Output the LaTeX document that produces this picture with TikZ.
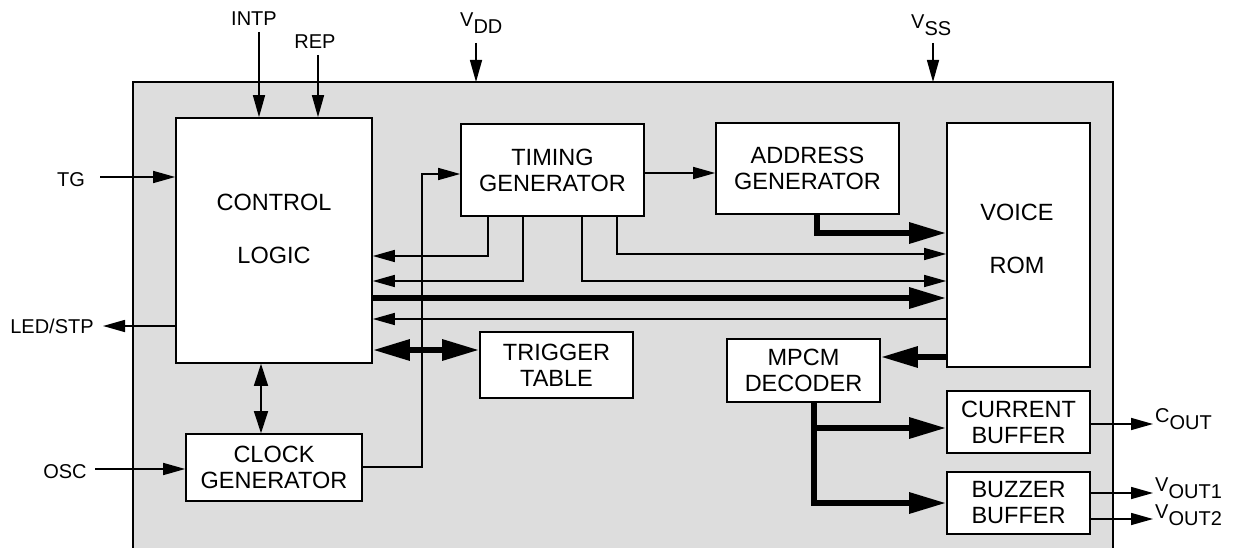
\documentclass[tikz,border=0pt]{standalone}
\usepackage{fontspec}
\setmainfont{Liberation Sans}
\usetikzlibrary{arrows.meta}
\definecolor{chipgray}{RGB}{221,221,221}
\tikzset{
  blk/.style={draw, line width=1.6pt, fill=white, inner sep=0pt, align=center,
              font=\fontsize{23.5}{26}\selectfont},
  blkt/.style={inner sep=0pt, font=\fontsize{23.5}{26}\selectfont},
  sig/.style={inner sep=0pt, font=\fontsize{20}{24}\selectfont},
  wire/.style={line width=1.5pt, -{Triangle[length=22pt,width=12pt]}},
  wiretwo/.style={line width=1.5pt, {Triangle[length=22pt,width=14pt]}-{Triangle[length=22pt,width=14pt]}},
  plainwire/.style={line width=1.5pt},
  busarr/.style={line width=6pt, -{Triangle[length=37pt,width=20pt]}},
  bustwo/.style={line width=6pt, {Triangle[length=37pt,width=20pt]}-{Triangle[length=37pt,width=20pt]}},
}
\begin{document}
\begin{tikzpicture}[x=1pt,y=-1pt]
\useasboundingbox (0,0) rectangle (1236,548);
% chip outline
\fill[chipgray] (133,82) rectangle (1113,560);
\draw[line width=1.8pt] (133,560) -- (133,82) -- (1113,82) -- (1113,560);

% blocks
\node[blk, minimum width=196pt, minimum height=245pt] (ctrl) at (274,240.5) {};
\node[blkt] (ctrlA) at (274,202) {CONTROL};
\node[blkt] (ctrlB) at (274,255) {LOGIC};
\node[blk, minimum width=183pt, minimum height=92pt] (timing) at (552.5,170) {TIMING\\GENERATOR};
\node[blk, minimum width=183pt, minimum height=91pt] (addr) at (807.5,168.5) {ADDRESS\\GENERATOR};
\node[blk, minimum width=143pt, minimum height=244pt] (rom) at (1018.5,245) {};
\node[blkt] (romA) at (1017,212) {VOICE};
\node[blkt] (romB) at (1017,265) {ROM};
\node[blk, minimum width=153pt, minimum height=66pt] (trig) at (556.5,365) {TRIGGER\\TABLE};
\node[blk, minimum width=153pt, minimum height=63pt] (mpcm) at (803.5,370.5) {MPCM\\DECODER};
\node[blk, minimum width=143pt, minimum height=62pt] (cur) at (1018.5,422) {CURRENT\\BUFFER};
\node[blk, minimum width=143pt, minimum height=62pt] (buz) at (1018.5,503) {BUZZER\\BUFFER};
\node[blk, minimum width=176pt, minimum height=67pt] (clk) at (274,467.5) {CLOCK\\GENERATOR};

% external labels
\node[sig, anchor=base] (intpL) at (254,26) {INTP};
\node[sig, anchor=base] (repL) at (315,49) {REP};
\node[sig, anchor=base] (tgL) at (71,187) {TG};
\node[sig, anchor=base] (ledL) at (52,333) {LED/STP};
\node[sig, anchor=base] (oscL) at (65,478) {OSC};
\node[sig, anchor=base west] (vddL) at (460,27) {V\raisebox{-7pt}{DD}};
\node[sig, anchor=base west] (vssL) at (911,29) {V\raisebox{-7pt}{SS}};
\node[sig, anchor=base west] (coutL) at (1155,422) {C\raisebox{-7pt}{OUT}};
\node[sig, anchor=base west] (vo1L) at (1155,491) {V\raisebox{-7pt}{OUT1}};
\node[sig, anchor=base west] (vo2L) at (1155,518) {V\raisebox{-7pt}{OUT2}};

% coordinates
\coordinate (intpS) at (259,32);
\coordinate (repS) at (318,55);
\coordinate (vddS) at (476,43); \coordinate (vddE) at (476,82);
\coordinate (vssS) at (933,43); \coordinate (vssE) at (933,82);
\coordinate (tgS) at (100,177);
\coordinate (ledE) at (103,326);
\coordinate (oscS) at (95,469);
\coordinate (ccx) at (261,0);
\coordinate (cg) at (422,174); \coordinate (cgb) at (422,467);
\coordinate (ta) at (0,173);
\coordinate (t1) at (488,256);
\coordinate (t2) at (523,281);
\coordinate (t3) at (582,281);
\coordinate (t4) at (617,254);
\coordinate (busy) at (0,298);
\coordinate (rety) at (0,319);
\coordinate (ar) at (817,233);
\coordinate (trg) at (0,350);
\coordinate (rm) at (0,357);
\coordinate (md) at (814,503);
\coordinate (mc) at (814,428);
\coordinate (co) at (1153,424);
\coordinate (v1) at (1153,493);
\coordinate (v2) at (1153,519);

% connectors
\draw[wire] (intpS) -- (intpS |- ctrl.north);
\draw[wire] (repS) -- (repS |- ctrl.north);
\draw[wire] (vddS) -- (vddE);
\draw[wire] (vssS) -- (vssE);
\draw[wire] (tgS) -- (tgS -| ctrl.west);
\draw[wire] (ledE -| ctrl.west) -- (ledE);
\draw[wire] (oscS) -- (oscS -| clk.west);
\draw[wiretwo] (ccx |- ctrl.south) -- (ccx |- clk.north);
\draw[wire] (cgb -| clk.east) -- (cgb) -- (cg) -- (cg -| timing.west);
\draw[wire] (ta -| timing.east) -- (ta -| addr.west);
\draw[wire] (t1 |- timing.south) -- (t1) -- (t1 -| ctrl.east);
\draw[wire] (t2 |- timing.south) -- (t2) -- (t2 -| ctrl.east);
\draw[wire] (t3 |- timing.south) -- (t3) -- (t3 -| rom.west);
\draw[wire] (t4 |- timing.south) -- (t4) -- (t4 -| rom.west);
\draw[busarr] (busy -| ctrl.east) -- (busy -| rom.west);
\draw[wire] (rety -| rom.west) -- (rety -| ctrl.east);
\draw[busarr] (ar |- addr.south) -- (ar) -- (ar -| rom.west);
\draw[bustwo] (trg -| ctrl.east) -- (trg -| trig.west);
\draw[busarr] (rm -| rom.west) -- (rm -| mpcm.east);
\draw[busarr] (md |- mpcm.south) -- (md) -- (md -| buz.west);
\draw[busarr] (mc) -- (mc -| cur.west);
\draw[wire] (co -| cur.east) -- (co);
\draw[wire] (v1 -| buz.east) -- (v1);
\draw[wire] (v2 -| buz.east) -- (v2);
\end{tikzpicture}
\end{document}
